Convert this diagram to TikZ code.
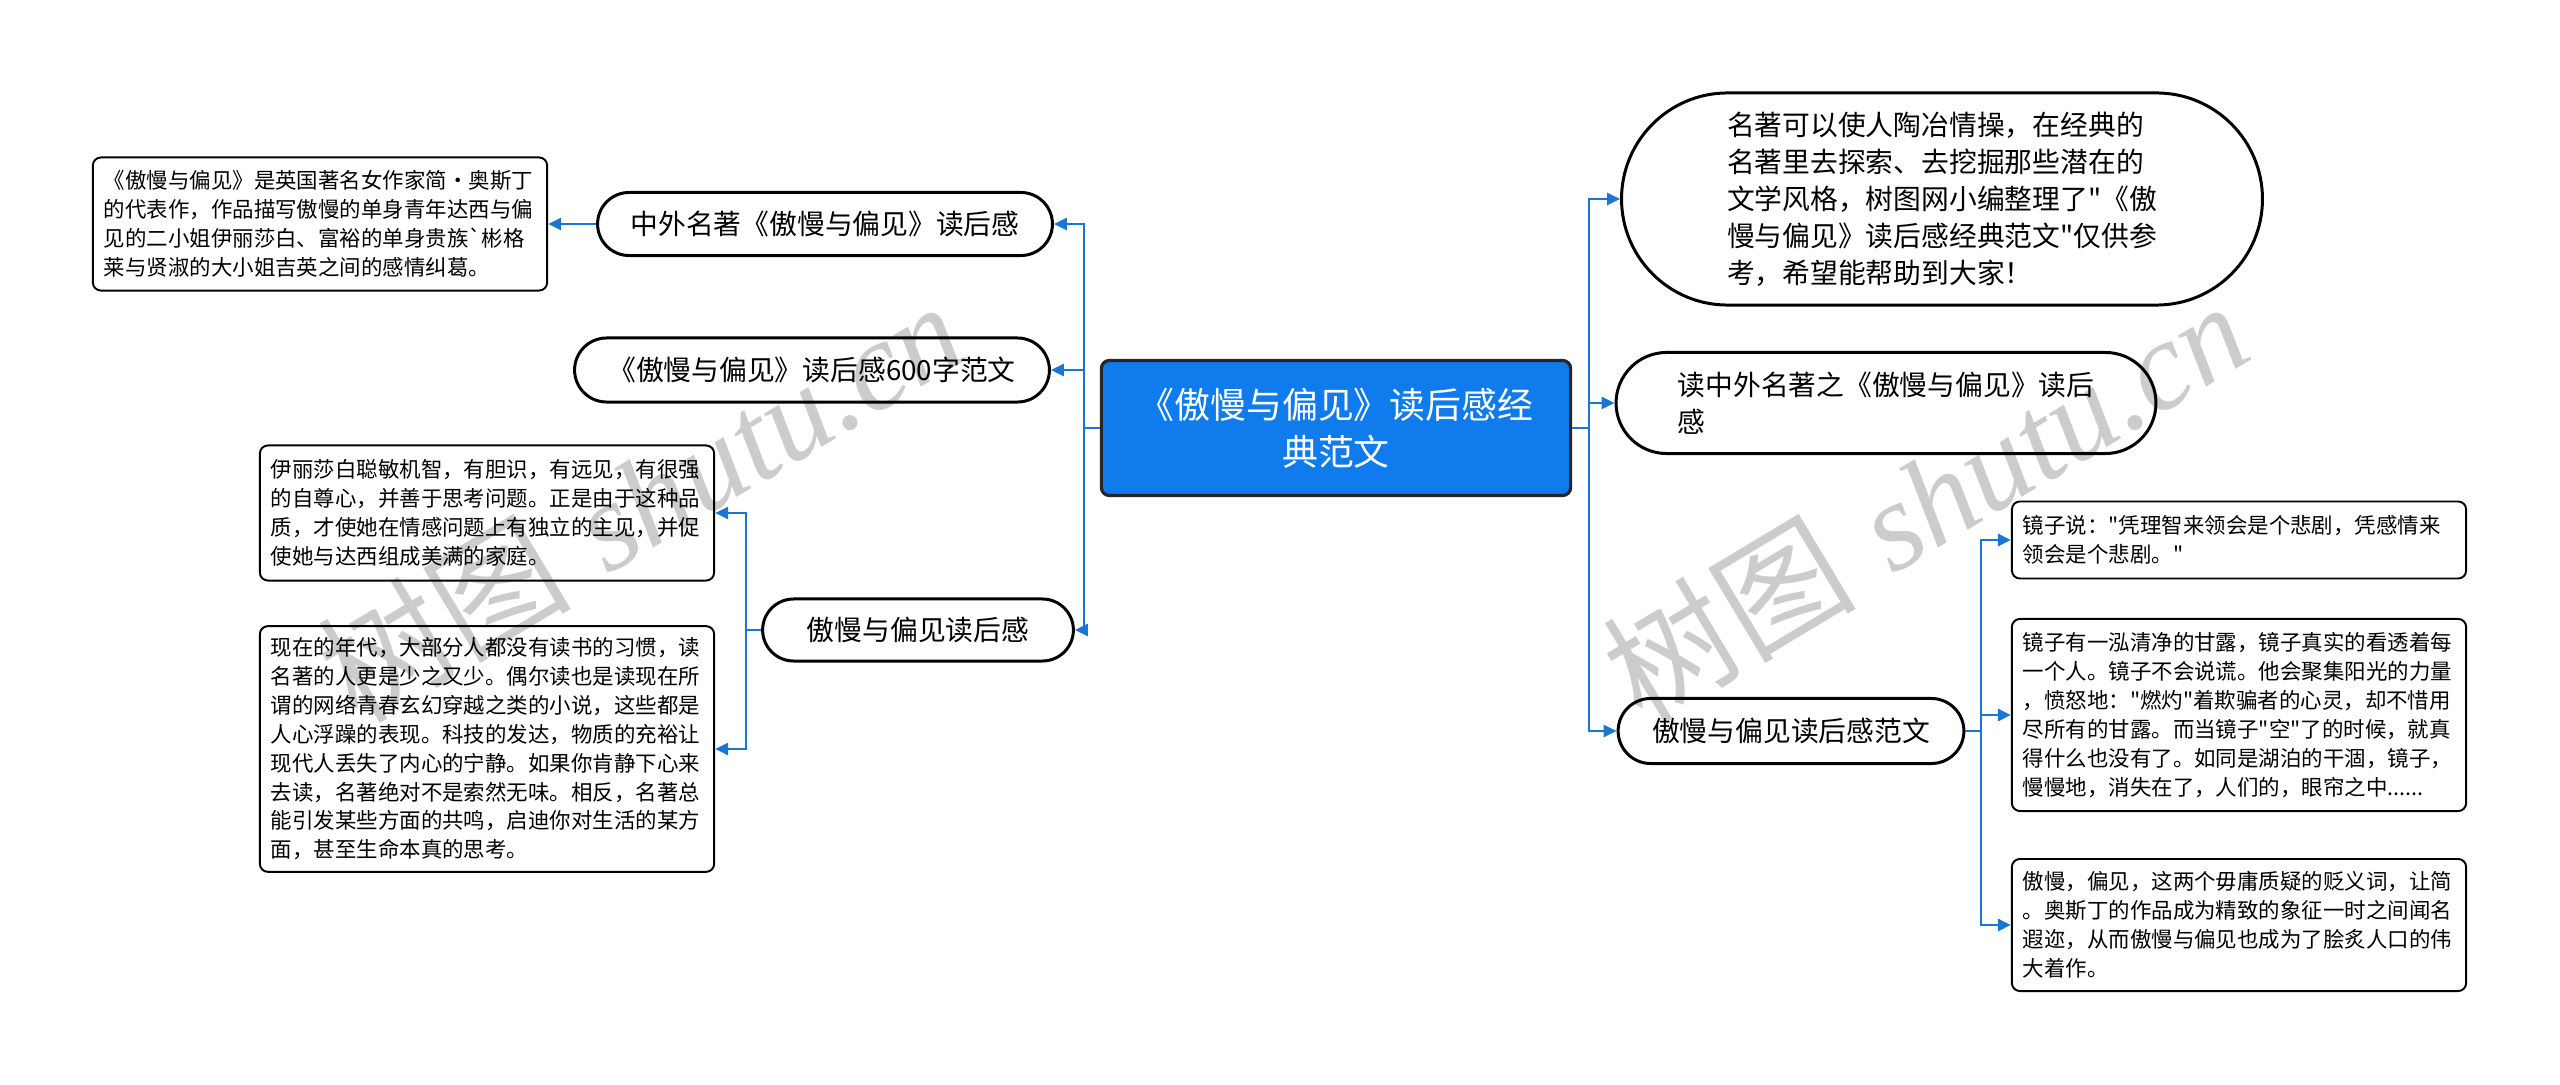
\documentclass[tikz,border=0pt]{standalone}
\usepackage{fontspec}
\newfontfamily\cjk{Noto Sans CJK SC}
\newfontfamily\wmserif{Liberation Serif}
\usetikzlibrary{shapes.misc,arrows.meta}
\definecolor{rootblue}{RGB}{16,123,236}
\definecolor{linkblue}{RGB}{26,118,210}

\begin{document}
\begin{tikzpicture}[x=0.01cm,y=-0.01cm,
    rootnode/.style={draw=black!85,line width=0.9pt,fill=rootblue,rounded corners=0.08cm,
        text=white,align=center,font=\cjk\fontsize{10.2pt}{13.4pt}\selectfont,
        minimum width=4.69cm,minimum height=1.35cm},
    pill/.style={draw,line width=0.85pt,rounded rectangle,align=left,
        font=\cjk\fontsize{7.9pt}{10.5pt}\selectfont},
    textbox/.style={draw,line width=0.55pt,rounded corners=0.08cm,align=left,
        text width=4.32cm,inner xsep=0.11cm,font=\cjk\fontsize{6.1pt}{8.2pt}\selectfont},
    link/.style={draw=linkblue,line width=0.8pt},
    arr/.style={link,-{Triangle[length=0.13cm,width=0.12cm]}}]
    \useasboundingbox (0,0) rectangle (2560,1085);

    \node[rootnode] (root) at (1336,428) {《傲慢与偏见》读后感经\\典范文};

    % left branch
    \node[pill,minimum width=4.78cm,minimum height=0.63cm] (zwmz) at (825,224) {中外名著《傲慢与偏见》读后感};
    \node[pill,minimum width=4.98cm,minimum height=0.64cm] (essay) at (812,370) {《傲慢与偏见》读后感600字范文};
    \node[pill,minimum width=3.34cm,minimum height=0.62cm] (review) at (918,630) {傲慢与偏见读后感};
    \node[textbox,minimum height=1.33cm] (intro) at (320,224) {《傲慢与偏见》是英国著名女作家简·奥斯丁\\的代表作，作品描写傲慢的单身青年达西与偏\\见的二小姐伊丽莎白、富裕的单身贵族`彬格\\莱与贤淑的大小姐吉英之间的感情纠葛。};
    \node[textbox,minimum height=1.35cm] (eliza) at (487,513) {伊丽莎白聪敏机智，有胆识，有远见，有很强\\的自尊心，并善于思考问题。正是由于这种品\\质，才使她在情感问题上有独立的主见，并促\\使她与达西组成美满的家庭。};
    \node[textbox,minimum height=2.45cm] (nowaday) at (487,749) {现在的年代，大部分人都没有读书的习惯，读\\名著的人更是少之又少。偶尔读也是读现在所\\谓的网络青春玄幻穿越之类的小说，这些都是\\人心浮躁的表现。科技的发达，物质的充裕让\\现代人丢失了内心的宁静。如果你肯静下心来\\去读，名著绝对不是索然无味。相反，名著总\\能引发某些方面的共鸣，启迪你对生活的某方\\面，甚至生命本真的思考。};

    % right branch
    \node[pill,minimum width=6.64cm,minimum height=2.12cm] (preface) at (1942,199) {名著可以使人陶冶情操，在经典的\\名著里去探索、去挖掘那些潜在的\\文学风格，树图网小编整理了"《傲\\慢与偏见》读后感经典范文"仅供参\\考，希望能帮助到大家！};
    \node[pill,minimum width=5.63cm,minimum height=1.01cm] (readzw) at (1886,403) {读中外名著之《傲慢与偏见》读后\\感};
    \node[pill,minimum width=3.69cm,minimum height=0.65cm] (sample) at (1791,731) {傲慢与偏见读后感范文};
    \node[textbox,minimum height=0.77cm] (mirror1) at (2239,540) {镜子说："凭理智来领会是个悲剧，凭感情来\\领会是个悲剧。"};
    \node[textbox,minimum height=1.92cm] (mirror2) at (2239,715) {镜子有一泓清净的甘露，镜子真实的看透着每\\一个人。镜子不会说谎。他会聚集阳光的力量\\，愤怒地："燃灼"着欺骗者的心灵，却不惜用\\尽所有的甘露。而当镜子"空"了的时候，就真\\得什么也没有了。如同是湖泊的干涸，镜子，\\慢慢地，消失在了，人们的，眼帘之中......};
    \node[textbox,minimum height=1.32cm] (mirror3) at (2239,925) {傲慢，偏见，这两个毋庸质疑的贬义词，让简\\。奥斯丁的作品成为精致的象征一时之间闻名\\遐迩，从而傲慢与偏见也成为了脍炙人口的伟\\大着作。};

    \coordinate (lt) at (1084,428);
    \coordinate (lr) at (746,630);
    \coordinate (rt) at (1589,428);
    \coordinate (rs) at (1981,731);

    \draw[link] (root.west) -- (lt);
    \foreach \n in {zwmz,essay,review}
        \draw[arr] (lt) |- (\n.east);
    \draw[arr] (zwmz.west) -- (intro.east);
    \draw[link] (review.west) -- (lr);
    \foreach \n in {eliza,nowaday}
        \draw[arr] (lr) |- (\n.east);

    \draw[link] (root.east) -- (rt);
    \foreach \n in {preface,readzw,sample}
        \draw[arr] (rt) |- (\n.west);
    \draw[link] (sample.east) -- (rs);
    \foreach \n in {mirror1,mirror2,mirror3}
        \draw[arr] (rs) |- (\n.west);

    % watermark
    \node[rotate=31,text opacity=0.2,font=\fontsize{36pt}{36pt}\selectfont] (wm1) at (640,500) {{\cjk 树图} {\wmserif\itshape shutu.cn}};
    \node[rotate=31,text opacity=0.2,font=\fontsize{36pt}{36pt}\selectfont] (wm2) at (1925,500) {{\cjk 树图} {\wmserif\itshape shutu.cn}};
\end{tikzpicture}
\end{document}
